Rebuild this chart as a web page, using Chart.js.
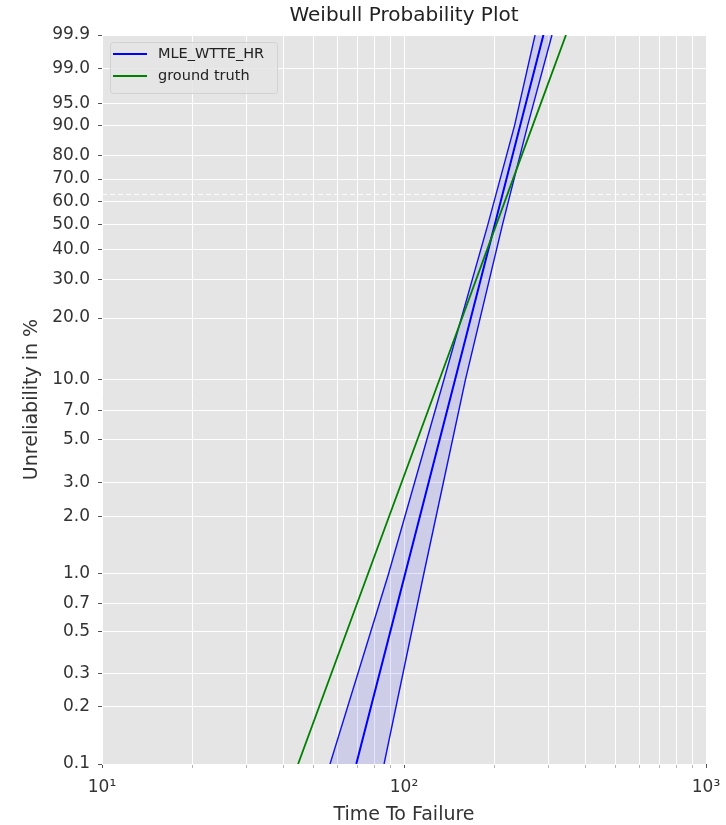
<!DOCTYPE html>
<html>
<head>
<meta charset="utf-8">
<script src="https://cdn.jsdelivr.net/npm/chart.js@4.4.0/dist/chart.umd.min.js"></script>
<style>
  html, body { margin: 0; padding: 0; background: #fff; }
</style>
</head>
<body>
<canvas id="weibullChart" width="726" height="825"></canvas>
<script>
const probLevels = [0.1, 1, 10, 50, 90, 99.9];
const fitTimes = [69.5, 100.9, 147.5, 199.8, 242.5, 289.5];
const lowerTimes = [56.9, 88.9, 135.5, 189.5, 232.3, 271.6];
const upperTimes = [85.9, 116.3, 159.7, 211.9, 256.6, 309.0];
const truthTimes = [44.6, 76.0, 130.9, 202.1, 266.7, 343.8];
const charLifeProb = 63.2;
const xRange = [10, 1000];

const yTickProbs = [0.1, 0.2, 0.3, 0.5, 0.7, 1, 2, 3, 5, 7, 10, 20, 30, 40, 50, 60, 70, 80, 90, 95, 99, 99.9];
const yTickLabels = ["0.1", "0.2", "0.3", "0.5", "0.7", "1.0", "2.0", "3.0", "5.0", "7.0", "10.0", "20.0",
  "30.0", "40.0", "50.0", "60.0", "70.0", "80.0", "90.0", "95.0", "99.0", "99.9"];
const xTickValues = [10, 20, 30, 40, 50, 60, 70, 80, 90, 100, 200, 300, 400, 500, 600, 700, 800, 900, 1000];
const xMajorValues = [10, 100, 1000];
const xMajorLabels = ["10¹", "10²", "10³"];

const FONT = "DejaVu Sans";

// weibull paper: y = ln(-ln(1 - F))
function weibullY(p) {
  return Math.log(-Math.log(1 - p / 100));
}

function toPoints(times) {
  return times.map(function (t, i) {
    return { x: t, y: weibullY(probLevels[i]) };
  });
}

const plotBackground = {
  id: "plotBackground",
  beforeDraw(chart) {
    const a = chart.chartArea;
    const ctx = chart.ctx;
    ctx.save();
    ctx.fillStyle = "#e5e5e5";
    ctx.fillRect(a.left, a.top, a.right - a.left, a.bottom - a.top);
    ctx.restore();
  }
};

// matplotlib style legend box in the upper left corner of the plot
const insideLegend = {
  id: "insideLegend",
  afterDatasetsDraw(chart) {
    const ctx = chart.ctx;
    const a = chart.chartArea;
    const x = a.left + 8;
    const y = a.top + 7;
    const items = chart.data.datasets.filter(function (d) { return d.label; });

    ctx.save();
    ctx.fillStyle = "rgba(229,229,229,0.85)";
    ctx.strokeStyle = "#d2d2d2";
    ctx.lineWidth = 1;
    ctx.beginPath();
    ctx.roundRect(x + 0.5, y + 0.5, 167, 51, 3);
    ctx.fill();
    ctx.stroke();

    ctx.font = "14.5px '" + FONT + "'";
    ctx.textBaseline = "middle";
    items.forEach(function (d, i) {
      const ly = y + 12 + i * 22;
      ctx.strokeStyle = d.borderColor;
      ctx.lineWidth = 2;
      ctx.beginPath();
      ctx.moveTo(x + 3, ly);
      ctx.lineTo(x + 37, ly);
      ctx.stroke();
      ctx.fillStyle = "#222";
      ctx.fillText(d.label, x + 48, ly);
    });
    ctx.restore();
  }
};

const ctx = document.getElementById("weibullChart").getContext("2d");

new Chart(ctx, {
  type: "line",
  data: {
    datasets: [
      {
        label: "MLE_WTTE_HR",
        data: toPoints(fitTimes),
        borderColor: "#0000ff",
        borderWidth: 2,
        pointRadius: 0,
        fill: false,
        order: 1
      },
      {
        data: toPoints(lowerTimes),
        borderColor: "#1010f0",
        backgroundColor: "rgba(0,0,255,0.1)",
        borderWidth: 1.4,
        pointRadius: 0,
        fill: "+1",
        order: 2
      },
      {
        data: toPoints(upperTimes),
        borderColor: "#1010f0",
        borderWidth: 1.4,
        pointRadius: 0,
        fill: false,
        order: 2
      },
      {
        label: "ground truth",
        data: toPoints(truthTimes),
        borderColor: "#008000",
        borderWidth: 1.8,
        pointRadius: 0,
        fill: false,
        order: 0
      },
      {
        data: [
          { x: xRange[0], y: weibullY(charLifeProb) },
          { x: xRange[1], y: weibullY(charLifeProb) }
        ],
        borderColor: "rgba(255,255,255,0.9)",
        borderWidth: 1,
        borderDash: [5, 3],
        pointRadius: 0,
        fill: false,
        order: 10
      }
    ]
  },
  options: {
    responsive: false,
    animation: false,
    indexAxis: "y",
    layout: { padding: { left: 0, right: 20, top: 0, bottom: 0 } },
    plugins: {
      legend: { display: false },
      tooltip: { enabled: false },
      title: {
        display: true,
        text: "Weibull Probability Plot",
        fullSize: false,
        color: "#222",
        font: { family: FONT, size: 20, weight: "normal", lineHeight: 1.2 },
        padding: { top: 4, bottom: 7 }
      }
    },
    scales: {
      x: {
        type: "logarithmic",
        min: xRange[0],
        max: xRange[1],
        afterBuildTicks: function (scale) {
          scale.ticks = xTickValues.map(function (v) {
            return { value: v, major: xMajorValues.includes(v) };
          });
        },
        afterFit: function (scale) {
          scale.height = 61;
          scale.paddingLeft = 0;
          scale.paddingRight = 0;
        },
        border: { display: false },
        grid: {
          color: "#ffffff",
          lineWidth: 1,
          tickLength: 4,
          tickColor: function (c) {
            return c.tick && xMajorValues.includes(c.tick.value) ? "#555" : "#b5b5b5";
          }
        },
        ticks: {
          autoSkip: false,
          maxRotation: 0,
          padding: 9,
          color: "#333",
          font: { family: FONT, size: 17 },
          callback: function (value) {
            const k = xMajorValues.indexOf(value);
            return k >= 0 ? xMajorLabels[k] : "";
          }
        },
        title: {
          display: true,
          text: "Time To Failure",
          color: "#333",
          font: { family: FONT, size: 19, lineHeight: 1 },
          padding: { top: 1, bottom: 0 }
        }
      },
      y: {
        type: "linear",
        min: weibullY(yTickProbs[0]),
        max: weibullY(yTickProbs[yTickProbs.length - 1]),
        afterBuildTicks: function (scale) {
          scale.ticks = yTickProbs.map(function (p) {
            return { value: weibullY(p) };
          });
        },
        afterFit: function (scale) {
          scale.width = 102;
        },
        border: { display: false },
        grid: {
          color: "#ffffff",
          lineWidth: 1,
          tickLength: 4,
          tickColor: "#555"
        },
        ticks: {
          autoSkip: false,
          padding: 8,
          color: "#333",
          font: { family: FONT, size: 17 },
          callback: function (value, index) {
            return yTickLabels[index];
          }
        },
        title: {
          display: true,
          text: "Unreliability in %",
          color: "#333",
          font: { family: FONT, size: 19, lineHeight: 1 },
          padding: { top: 23, bottom: 0 }
        }
      }
    }
  },
  plugins: [plotBackground, insideLegend]
});
</script>
</body>
</html>
